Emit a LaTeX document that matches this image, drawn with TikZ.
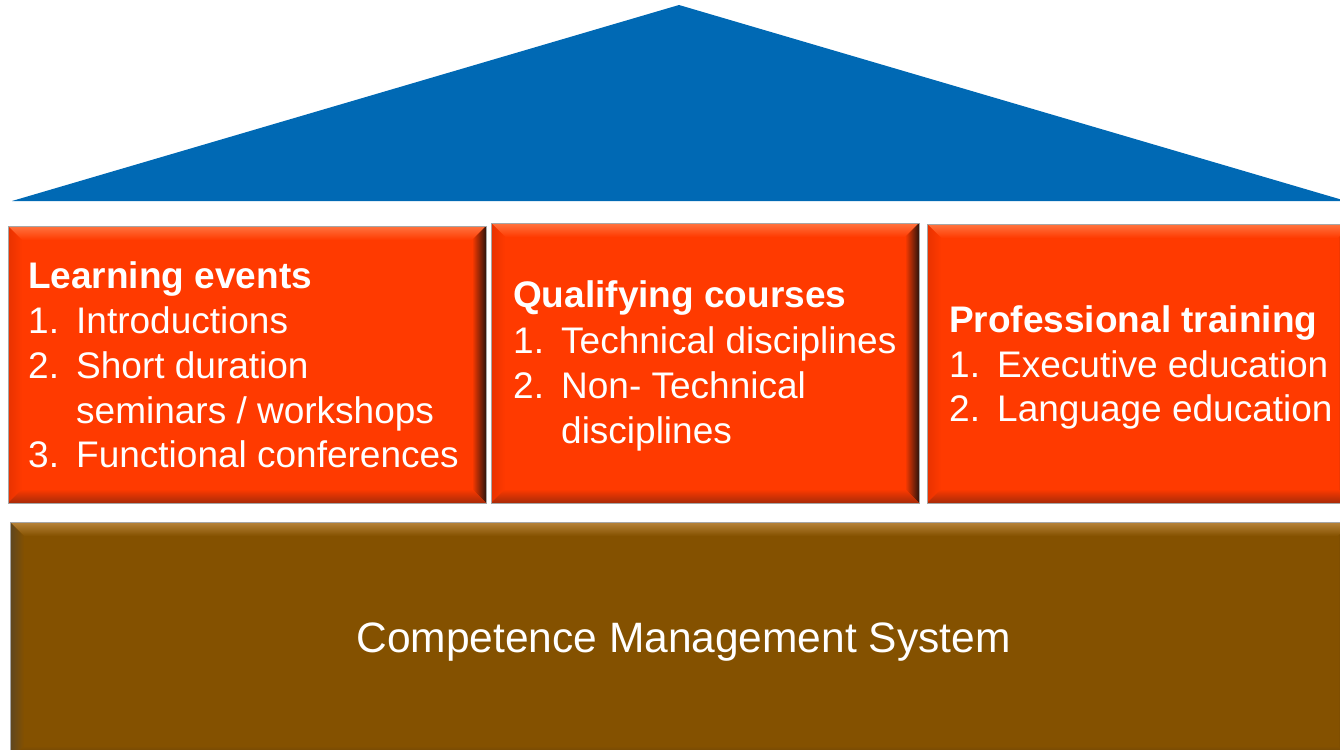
\documentclass[tikz,border=0pt]{standalone}
\usepackage{fontspec}
\setmainfont{Liberation Sans}
\definecolor{roofblue}{HTML}{0069B4}
\definecolor{org}{HTML}{FF3A00}
\definecolor{orgtop}{HTML}{FF7440}
\definecolor{orgleft}{HTML}{E83200}
\definecolor{orgright}{HTML}{2E140C}
\definecolor{orgbot}{HTML}{A82A08}
\definecolor{brn}{HTML}{845100}
\definecolor{brntop}{HTML}{B8843A}
\definecolor{brnleft}{HTML}{5E4620}
\definecolor{brnright}{HTML}{3A2508}
\definecolor{brnbot}{HTML}{5A3A10}
\newcommand\bevbox[5]{%
  \fill[#5] (#1,#2) rectangle (#3,#4);
  \shade[top color=#5top, bottom color=#5] (#1,#2) -- (#3,#2) -- (#3-14,#2+14) -- (#1+14,#2+14) -- cycle;
  \shade[left color=#5left, right color=#5] (#1,#2) -- (#1+14,#2+14) -- (#1+14,#4-14) -- (#1,#4) -- cycle;
  \shade[left color=#5, right color=#5right] (#3,#2) -- (#3-14,#2+14) -- (#3-14,#4-14) -- (#3,#4) -- cycle;
  \shade[top color=#5, bottom color=#5bot] (#1,#4) -- (#1+14,#4-14) -- (#3-14,#4-14) -- (#3,#4) -- cycle;
  \draw[black!35, line width=0.8] (#1,#2) rectangle (#3,#4);
}
\begin{document}
\begin{tikzpicture}[x=1pt,y=-1pt,
  txt/.style={anchor=base west, inner sep=0, text=white, font=\fontsize{37}{44}\selectfont},
  head/.style={anchor=base west, inner sep=0, text=white, font=\fontsize{37}{44}\selectfont\bfseries}]
\useasboundingbox (0,0) rectangle (1340,749);
\clip (0,0) rectangle (1340,749);
% roof
\fill[roofblue] (12,201) -- (679,5) -- (1346,201) -- cycle;
% boxes
\bevbox{8}{226}{486}{503}{org}
\bevbox{491}{223}{919}{503}{org}
\bevbox{927}{224}{1352}{503}{org}
\bevbox{10}{522}{1352}{760}{brn}
% box 1
\node[head] (le) at (28,288) {Learning events};
\node[txt] (le1n) at (28,333) {1.};
\node[txt] (le1) at (76,333) {Introductions};
\node[txt] (le2n) at (28,378) {2.};
\node[txt] (le2) at (76,378) {Short duration};
\node[txt] (le2b) at (76,423) {seminars / workshops};
\node[txt] (le3n) at (28,467) {3.};
\node[txt] (le3) at (76,467) {Functional conferences};
% box 2
\node[head] (qc) at (513,307) {Qualifying courses};
\node[txt] (qc1n) at (513,353) {1.};
\node[txt] (qc1) at (561,353) {Technical disciplines};
\node[txt] (qc2n) at (513,398) {2.};
\node[txt] (qc2) at (561,398) {Non- Technical};
\node[txt] (qc2b) at (561,443) {disciplines};
% box 3
\node[head] (pt) at (949,332) {Professional training};
\node[txt] (pt1n) at (949,377) {1.};
\node[txt] (pt1) at (997,377) {Executive education};
\node[txt] (pt2n) at (949,421) {2.};
\node[txt] (pt2) at (997,421) {Language education};
% base
\node[anchor=base, inner sep=0, text=white, font=\fontsize{42.5}{50}\selectfont] (cms) at (683.5,652) {Competence Management System};
\end{tikzpicture}
\end{document}
